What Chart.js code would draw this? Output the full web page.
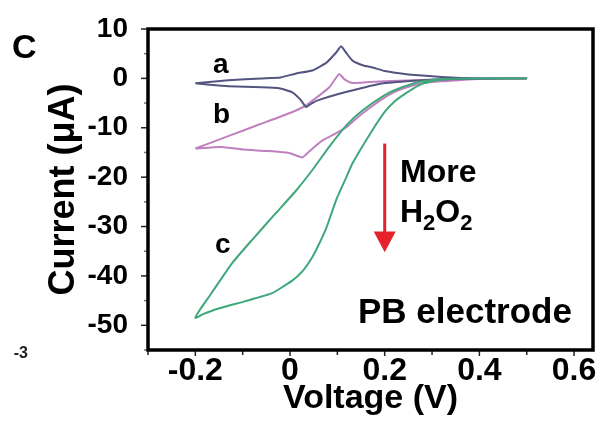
<!DOCTYPE html>
<html>
<head>
<meta charset="utf-8">
<script src="https://cdn.jsdelivr.net/npm/chart.js@4.4.1/dist/chart.umd.min.js"></script>
<style>
  html, body { margin: 0; padding: 0; background: #fff; }
  #wrap { width: 602px; height: 422px; }
</style>
</head>
<body>
<div id="wrap"><canvas id="cv" width="602" height="422"></canvas></div>
<script>
// curve a: no H2O2 (closed CV loop, forward then reverse)
const aVolt = [-0.2, -0.13, -0.06, -0.02, 0.013, 0.047, 0.077, 0.098, 0.108, 0.12, 0.132, 0.155, 0.175, 0.2, 0.25, 0.28, 0.32, 0.36, 0.4, 0.5,
               0.4, 0.33, 0.28, 0.246, 0.19, 0.15, 0.104, 0.06, 0.047, 0.034, 0.026, 0.019, 0.004, -0.023, -0.06, -0.13, -0.17, -0.2];
const aCurr = [-1.0, -0.4, 0.0, 0.2, 1.0, 1.6, 3.2, 5.3, 6.5, 5.0, 3.6, 2.6, 2.2, 1.5, 0.8, 0.6, 0.3, 0.1, 0.0, 0.0,
               -0.05, -0.2, -0.4, -0.6, -1.1, -2.0, -3.1, -4.4, -5.0, -5.8, -4.8, -4.0, -2.8, -2.0, -1.8, -1.6, -1.3, -1.0];

// curve b
const bVolt = [-0.2, -0.15, -0.1, -0.05, 0.0, 0.033, 0.06, 0.083, 0.104, 0.115, 0.13, 0.16, 0.2, 0.26, 0.3, 0.35, 0.4, 0.5,
               0.4, 0.32, 0.28, 0.247, 0.22, 0.19, 0.15, 0.119, 0.09, 0.068, 0.05, 0.035, 0.026, -0.002, -0.05, -0.1, -0.145, -0.2];
const bCurr = [-14.2, -12.4, -10.6, -8.8, -7.0, -5.5, -3.6, -1.8, 0.9, -0.2, -0.9, -0.8, -0.6, -0.4, -0.25, -0.1, 0.0, 0.0,
               -0.1, -0.6, -1.0, -1.8, -2.8, -4.5, -7.3, -9.9, -11.5, -12.6, -14.0, -15.3, -16.0, -15.1, -14.7, -14.4, -13.9, -14.2];

// curve c: more H2O2
const cVolt = [0.5, 0.4, 0.35, 0.317, 0.29, 0.27, 0.245, 0.222, 0.2, 0.17, 0.132, 0.119, 0.098, 0.077, 0.06, 0.047, 0.025, 0.004, -0.038, -0.094, -0.151, -0.185, -0.2,
               -0.19, -0.166, -0.123, -0.081, -0.03, 0.013, 0.05, 0.083, 0.12, 0.153, 0.2, 0.226, 0.274, 0.317, 0.4, 0.5];
const cCurr = [0.0, 0.0, -0.05, -0.3, -0.8, -1.5, -3.0, -4.6, -6.8, -11.1, -17.2, -20.0, -24.5, -30.2, -33.8, -36.2, -39.2, -41.0, -43.5, -45.1, -46.6, -47.8, -48.5,
               -46.8, -43.5, -37.5, -32.8, -27.3, -22.7, -18.2, -13.8, -9.4, -6.5, -3.4, -2.2, -0.7, -0.1, 0.0, 0.0];

const xLabels = [-0.2, 0, 0.2, 0.4, 0.6];
const yLabels = [10, 0, -10, -20, -30, -40, -50];

function pts(xs, ys) {
  return xs.map((v, i) => ({x: v, y: ys[i]}));
}
function isLabel(list, v) {
  return list.some(t => Math.abs(t - v) < 1e-6);
}

Chart.defaults.font.family = '"Liberation Sans", Arial, sans-serif';
Chart.defaults.color = '#000';

const extras = {
  id: 'extras',
  afterDraw(chart) {
    const {ctx, chartArea: ca, scales: {x, y}} = chart;
    ctx.save();
    // tick marks, outside the frame
    ctx.strokeStyle = '#222';
    ctx.lineWidth = 1.5;
    x.ticks.forEach(t => {
      const px = x.getPixelForValue(t.value);
      const len = isLabel(xLabels, t.value) ? 6 : 5;
      ctx.beginPath();
      ctx.moveTo(px, ca.bottom);
      ctx.lineTo(px, ca.bottom + len);
      ctx.stroke();
    });
    y.ticks.forEach(t => {
      const py = y.getPixelForValue(t.value);
      const len = isLabel(yLabels, t.value) ? 7 : 4;
      ctx.strokeStyle = isLabel(yLabels, t.value) ? '#222' : '#777';
      ctx.beginPath();
      ctx.moveTo(ca.left, py);
      ctx.lineTo(ca.left - len, py);
      ctx.stroke();
    });
    // frame
    ctx.strokeStyle = '#000';
    ctx.lineWidth = 3.5;
    ctx.strokeRect(ca.left, ca.top, ca.right - ca.left, ca.bottom - ca.top);

    // arrow: more H2O2
    const ax = x.getPixelForValue(0.2);
    const y0 = y.getPixelForValue(-13.2);
    const y1 = y.getPixelForValue(-31);
    const y2 = y.getPixelForValue(-35.2);
    ctx.strokeStyle = '#e5222b';
    ctx.fillStyle = '#e5222b';
    ctx.lineWidth = 3;
    ctx.beginPath();
    ctx.moveTo(ax, y0);
    ctx.lineTo(ax, y1 + 1);
    ctx.stroke();
    ctx.beginPath();
    ctx.moveTo(ax - 11, y1);
    ctx.lineTo(ax + 11, y1);
    ctx.lineTo(ax, y2);
    ctx.closePath();
    ctx.fill();

    // text annotations
    ctx.fillStyle = '#000';
    ctx.textBaseline = 'alphabetic';
    ctx.textAlign = 'left';
    ctx.font = 'bold 34px "Liberation Sans", Arial, sans-serif';
    ctx.fillText('C', 12, 58);
    ctx.font = 'bold 28px "Liberation Sans", Arial, sans-serif';
    ctx.fillText('a', 213, 73);
    ctx.fillText('b', 213, 123);
    ctx.fillText('c', 215, 253);
    ctx.font = 'bold 32px "Liberation Sans", Arial, sans-serif';
    ctx.fillText('More', 400, 182);
    let hx = 400;
    ctx.fillText('H', hx, 222);
    hx += ctx.measureText('H').width;
    ctx.font = 'bold 22px "Liberation Sans", Arial, sans-serif';
    ctx.fillText('2', hx, 230);
    hx += ctx.measureText('2').width;
    ctx.font = 'bold 32px "Liberation Sans", Arial, sans-serif';
    ctx.fillText('O', hx, 222);
    hx += ctx.measureText('O').width;
    ctx.font = 'bold 22px "Liberation Sans", Arial, sans-serif';
    ctx.fillText('2', hx, 230);
    ctx.font = 'bold 35px "Liberation Sans", Arial, sans-serif';
    ctx.fillText('PB electrode', 358, 323);
    ctx.fillStyle = '#222';
    ctx.textAlign = 'right';
    ctx.font = 'bold 16px "Liberation Sans", Arial, sans-serif';
    ctx.fillText('-3', 28, 358);
    ctx.restore();
  }
};

new Chart(document.getElementById('cv'), {
  type: 'scatter',
  data: {
    datasets: [
      {label: 'c', data: pts(cVolt, cCurr), borderColor: 'rgb(62,168,122)', order: 0},
      {label: 'a', data: pts(aVolt, aCurr), borderColor: 'rgb(84,84,128)', order: 1},
      {label: 'b', data: pts(bVolt, bCurr), borderColor: 'rgb(192,128,192)', order: 2}
    ].map(d => Object.assign(d, {showLine: true, pointRadius: 0, borderWidth: 2, tension: 0.15, fill: false}))
  },
  options: {
    responsive: false,
    animation: false,
    layout: {padding: {top: 29, right: 9, bottom: 0, left: 0}},
    plugins: {legend: {display: false}, tooltip: {enabled: false}},
    scales: {
      x: {
        type: 'linear',
        min: -0.3,
        max: 0.64,
        afterBuildTicks: s => { s.ticks = [-0.3, -0.2, -0.1, 0, 0.1, 0.2, 0.3, 0.4, 0.5, 0.6].map(v => ({value: v})); },
        afterFit: s => { s.height = 72; s.paddingLeft = 0; s.paddingRight = 0; },
        grid: {display: false, drawTicks: false, tickLength: 0},
        border: {display: false},
        ticks: {
          autoSkip: false,
          maxRotation: 0,
          padding: 2,
          font: {size: 32, weight: 'bold'},
          callback: v => isLabel(xLabels, v) ? (Math.abs(v) < 1e-9 ? '0' : String(Math.round(v * 10) / 10)) : ''
        },
        title: {display: true, text: 'Voltage (V)', font: {size: 34, weight: 'bold'}, padding: {top: 0, bottom: 3}}
      },
      y: {
        type: 'linear',
        min: -55,
        max: 10,
        afterBuildTicks: s => {
          const t = [];
          for (let v = -55; v <= 10; v += 5) t.push({value: v});
          s.ticks = t;
        },
        afterFit: s => { s.width = 148; s.paddingTop = 0; s.paddingBottom = 0; },
        grid: {display: false, drawTicks: false, tickLength: 0},
        border: {display: false},
        ticks: {
          autoSkip: false,
          padding: 20,
          font: {size: 28, weight: 'bold'},
          callback: v => isLabel(yLabels, v) ? String(v) : ''
        },
        title: {display: true, text: 'Current (μA)', font: {size: 36, weight: 'bold'}, padding: {top: 42, bottom: 0}}
      }
    }
  },
  plugins: [extras]
});
</script>
</body>
</html>
